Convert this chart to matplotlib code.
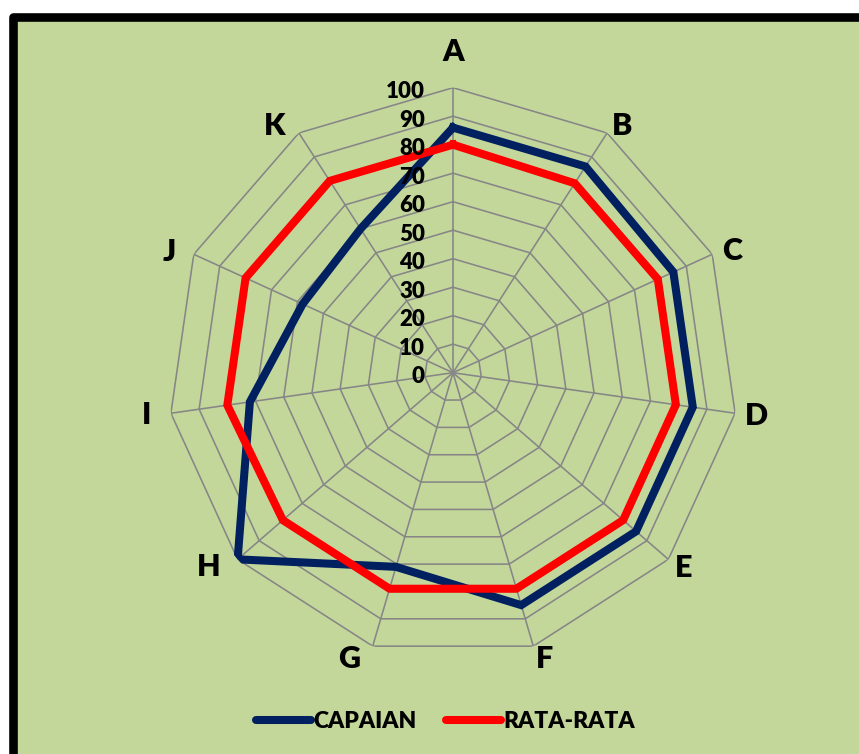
import numpy as np
import matplotlib
matplotlib.use("Agg")
import matplotlib.pyplot as plt
from matplotlib.patches import Rectangle
from matplotlib.lines import Line2D
from matplotlib.transforms import offset_copy

categories = ["A", "B", "C", "D", "E", "F", "G", "H", "I", "J", "K"]
capaian = [86, 86, 85, 85, 85, 85, 71, 100, 72, 58, 60]
rata_rata = [80, 79, 79, 79, 79, 79, 79, 79, 80, 80, 80]
tick_values = list(range(0, 101, 10))
series_names = ["CAPAIAN", "RATA-RATA"]

BLUE = "#002060"
RED = "#FF0000"
GREEN = "#C4D79B"
GRID = "#868686"
FONT = "Lato"

W, H = 859, 754
fig = plt.figure(figsize=(W / 100, H / 100), dpi=100)
fig.patch.set_facecolor("white")

# outer frame
frame = Rectangle((12.5 / W, -0.1), 1.2, 1 - 16.5 / H + 0.1, transform=fig.transFigure,
                  facecolor=GREEN, edgecolor="black", linewidth=6.2, joinstyle="round",
                  zorder=-10)
fig.patches.append(frame)

cx, cy, R = 453, 372.7, 285
ax = fig.add_axes([(cx - R) / W, (H - cy - R) / H, 2 * R / W, 2 * R / H], projection="polar")
ax.set_zorder(1)
ax.set_facecolor("none")
ax.set_theta_zero_location("N")
ax.set_theta_direction(-1)
ax.set_ylim(0, 100)
ax.grid(False)
ax.spines["polar"].set_visible(False)
ax.set_xticks([])
ax.set_yticks([])

n = len(categories)
theta = np.linspace(0, 2 * np.pi, n, endpoint=False)
theta_c = np.append(theta, theta[0])

# polygon grid
for v in tick_values[1:]:
    ax.plot(theta_c, [v] * (n + 1), color=GRID, lw=1.15, zorder=1)
for t in theta:
    ax.plot([t, t], [0, 100], color=GRID, lw=1.15, zorder=1)

# series
ax.plot(theta_c, capaian + capaian[:1], color=BLUE, lw=5.8, zorder=3,
        solid_joinstyle="miter")
ax.plot(theta_c, rata_rata + rata_rata[:1], color=RED, lw=5.8, zorder=4,
        solid_joinstyle="miter")

# radial tick labels
trans = offset_copy(ax.transData, fig=fig, x=-28, y=-10.5, units="dots")
for v in tick_values:
    ax.text(0, v, str(v), transform=trans, ha="right", va="baseline",
            fontsize=16, fontweight="heavy", family=FONT, color="black", zorder=5)

# category labels (layout: radius in % of outer ring and angle nudge in degrees)
label_r = [113.2, 105.5, 107.1, 107.6, 105.7, 104.8, 106.2, 109.0, 108.3, 108.6, 107.3]
label_dang = [0, 1.5, 0.6, -0.5, -1.0, -1.5, 3.7, 2.7, 0.7, -1.1, -2.9]
ltrans = offset_copy(ax.transData, fig=fig, x=0, y=-11.3, units="dots")
for t, lab, r, da in zip(theta, categories, label_r, label_dang):
    ax.text(t + np.deg2rad(da), r, lab, transform=ltrans, ha="center", va="baseline",
            fontsize=22, fontweight="heavy", family=FONT, color="black", clip_on=False)

handles = [Line2D([], [], color=BLUE, lw=5.8, solid_capstyle="round"),
           Line2D([], [], color=RED, lw=5.8, solid_capstyle="round")]
leg = fig.legend(handles, series_names, loc="center", bbox_to_anchor=(445.5 / W, 1 - 722 / H),
                 ncol=2, frameon=False, handlelength=2.4, handletextpad=0.1,
                 columnspacing=1.3, prop={"family": FONT, "weight": "heavy", "size": 16.5})

fig.savefig("out.png", dpi=100, facecolor=fig.get_facecolor())
